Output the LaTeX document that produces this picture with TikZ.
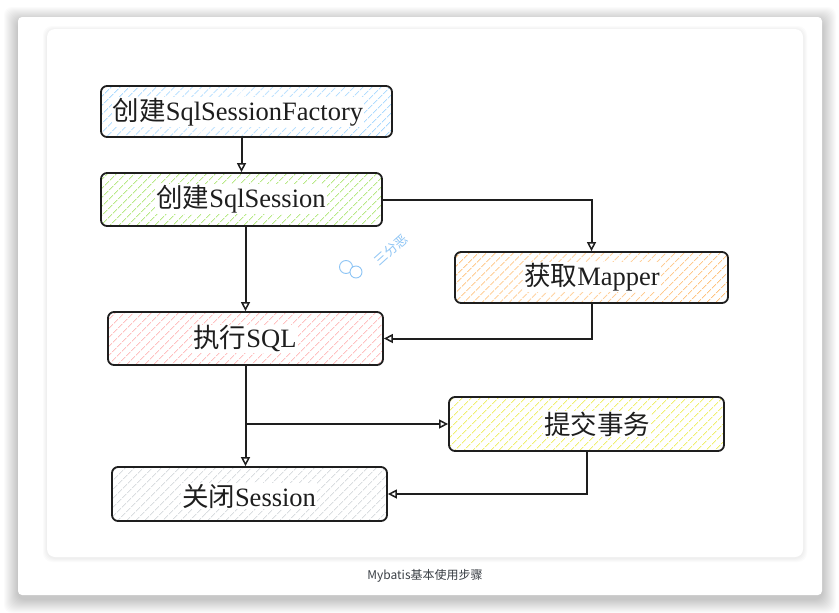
\documentclass[tikz,border=0pt]{standalone}
\usepackage{fontspec}
\setmainfont{Liberation Serif}
\newfontfamily\cjk{Noto Sans CJK SC}
\usetikzlibrary{patterns.meta,arrows.meta}
\definecolor{ink}{HTML}{1E1E1E}
\definecolor{hblue}{HTML}{A5D8FF}
\definecolor{hgreen}{HTML}{B8E986}
\definecolor{horange}{HTML}{FFC078}
\definecolor{hred}{HTML}{FFC0C0}
\definecolor{hyellow}{HTML}{F0F070}
\definecolor{hgray}{HTML}{DADDE0}
\definecolor{wmblue}{HTML}{8EC5F5}
\definecolor{captxt}{HTML}{3A3F45}
\tikzset{
  box/.style={draw=ink, line width=1.8pt, rounded corners=6pt, inner sep=0pt},
  hatch/.style={pattern={Lines[angle=45,distance=6.5pt,line width=1.1pt]}, pattern color=#1},
  lbl/.style={fill=white, inner sep=1pt, text=ink, font=\fontsize{26.5}{29}\selectfont},
  arr/.style={draw=ink, line width=2pt, -{Triangle[open,length=9pt,width=9pt,line width=1.5pt]}}
}
\begin{document}
\begin{tikzpicture}[x=1pt,y=-1pt]
\useasboundingbox (0,0) rectangle (839,613);
\fill[white] (0,0) rectangle (839,613);
% outer card shadow
\foreach \i in {1,...,14}{
  \fill[black,opacity=0.014,rounded corners=8pt] (18-\i,17-\i+4) rectangle (822+\i,595+\i+4);
}
\fill[white,rounded corners=4pt] (18,17) rectangle (822,595);
% inner card shadow
\foreach \i in {1,...,4}{
  \fill[black,opacity=0.014,rounded corners=9pt] (47-\i,29-\i+1) rectangle (803+\i,557+\i+1);
}
\fill[white,rounded corners=8pt] (47,29) rectangle (803,557);

% boxes
\node[box, hatch=hblue,   minimum width=291pt, minimum height=51pt] (b1) at (246.5,111.5) {};
\node[box, hatch=hgreen,  minimum width=281pt, minimum height=53pt] (b2) at (241.5,199.5) {};
\node[box, hatch=horange, minimum width=273pt, minimum height=51pt] (b3) at (591.5,277.5) {};
\node[box, hatch=hred,    minimum width=275pt, minimum height=53pt] (b4) at (245.5,338.5) {};
\node[box, hatch=hyellow, minimum width=275pt, minimum height=54pt] (b5) at (586.5,424) {};
\node[box, hatch=hgray,   minimum width=275pt, minimum height=54pt] (b6) at (249.5,494) {};

% labels
\node[lbl] (t1) at (238,112) {{\cjk 创建}SqlSessionFactory};
\node[lbl] (t2) at (241,199) {{\cjk 创建}SqlSession};
\node[lbl] (t3) at (592,277) {{\cjk 获取}Mapper};
\node[lbl] (t4) at (245,339) {{\cjk 执行}SQL};
\node[lbl] (t5) at (597,424) {\cjk 提交事务};
\node[lbl] (t6) at (249,496) {{\cjk 关闭}Session};

% connectors
\draw[arr] (b1.south -| b2.north) -- (b2.north);
\draw[arr] (b2.east) -| (b3.north);
\draw[arr] (b2.south -| b4.north) -- (b4.north);
\draw[arr] (b3.south) |- (b4.east);
\coordinate (j1) at (b4.south |- b5.west);
\draw[arr] (b4.south) -- (b4.south |- b6.north);
\draw[arr] (j1) -- (b5.west);
\draw[arr] (b5.south) |- (b6.east);

% watermark
\node[rotate=42, text=wmblue, font=\cjk\fontsize{13}{13}\selectfont] (wm) at (391,250) {三分恶};
\draw[wmblue, line width=0.9pt] (346,267) circle[radius=6.5pt];
\draw[wmblue, line width=0.9pt, fill=white] (356,272) circle[radius=6pt];

% caption
\node[text=captxt, font=\cjk\fontsize{12}{12}\selectfont] (cap) at (425,576) {Mybatis基本使用步骤};
\end{tikzpicture}
\end{document}
